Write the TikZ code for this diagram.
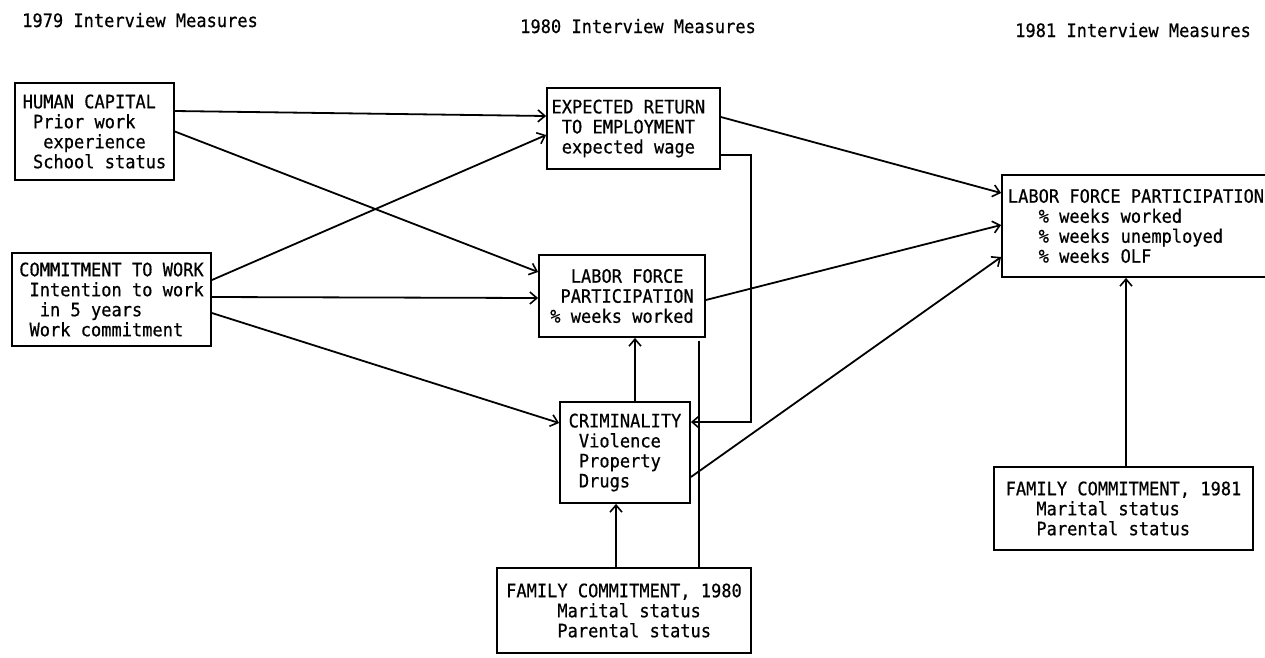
\documentclass[tikz,border=0pt]{standalone}
\usepackage{fontspec}
\setmonofont{DejaVu Sans Mono}[FakeStretch=0.92, FakeBold=0.6]
\usetikzlibrary{arrows.meta,calc}
\newcommand\ind[1]{\hspace*{#1\fontcharwd\font`M}}
\tikzset{
  box/.style={draw, line width=1.8pt, align=left, inner sep=0pt,
    font=\ttfamily\fontsize{18.5}{20}\selectfont},
  hdr/.style={anchor=base west, inner sep=0pt, font=\ttfamily\fontsize{18.5}{20}\selectfont},
  arr/.style={line width=1.8pt, -{Straight Barb[length=7pt,width=12pt,line width=1.6pt]}},
  ln/.style={line width=1.8pt}
}
\begin{document}
\begin{tikzpicture}[x=1pt,y=-1pt]
\useasboundingbox (0,0) rectangle (1265,657);
% headers
\node[hdr] (h79) at (22,27) {1979 Interview Measures};
\node[hdr] (h80) at (520,33) {1980 Interview Measures};
\node[hdr] (h81) at (1015,37) {1981 Interview Measures};
% boxes
\node[box, minimum width=159pt, minimum height=97pt] (hc) at (94.5,131.5)
  {HUMAN CAPITAL\\\ind1Prior work\\\ind2experience\\\ind1School status};
\node[box, minimum width=199pt, minimum height=93pt] (ctw) at (111.5,299.5)
  {COMMITMENT TO WORK\\\ind1Intention to work\\\ind2in 5 years\\\ind1Work commitment};
\node[box, minimum width=173pt, minimum height=81pt] (er) at (633.5,128.5)
  {EXPECTED RETURN\ind1\\\ind1TO EMPLOYMENT\\\ind1expected wage};
\node[box, minimum width=166pt, minimum height=82pt] (lfp80) at (622,296)
  {\ind2LABOR FORCE\\\ind1PARTICIPATION\\\% weeks worked};
\node[box, minimum width=130pt, minimum height=101pt] (crim) at (625,452.5)
  {CRIMINALITY\\\ind1Violence\\\ind1Property\\\ind1Drugs};
\node[box, minimum width=254pt, minimum height=85pt] (fam80) at (624,610.5)
  {FAMILY COMMITMENT, 1980\\\ind5Marital status\\\ind5Parental status};
\node[box, minimum width=268pt, minimum height=102pt] (lfp81) at (1136,226)
  {LABOR FORCE PARTICIPATION\\\ind3\% weeks worked\\\ind3\% weeks unemployed\\\ind3\% weeks OLF};
\node[box, minimum width=259pt, minimum height=83pt] (fam81) at (1123.5,508.5)
  {FAMILY COMMITMENT, 1981\\\ind3Marital status\\\ind3Parental status};
% connectors
\draw[arr] ([yshift=20.5pt]hc.east) -- ([yshift=12.5pt]er.west);
\draw[arr] (hc.east) -- ([yshift=24pt]lfp80.west);
\draw[arr] ([yshift=19.5pt]ctw.east) -- ([yshift=-6.5pt]er.west);
\draw[arr] ([yshift=2.5pt]ctw.east) -- ([yshift=-2pt]lfp80.west);
\draw[arr] ([yshift=-13.5pt]ctw.east) -- ([yshift=29.5pt]crim.west);
\draw[arr] ([yshift=11.5pt]er.east) -- ([yshift=33pt]lfp81.west);
\draw[arr] ([yshift=-26.5pt]er.east) -- ++(30,0) |- ([yshift=30.5pt]crim.east);
\draw[arr] ([yshift=-4pt]lfp80.east) -- ([yshift=1pt]lfp81.west);
\draw[arr] ([yshift=-24.5pt]crim.east) -- ([yshift=-31pt]lfp81.west);
\draw[arr] ([xshift=10pt]crim.north) -- ([xshift=13pt]lfp80.south);
\draw[arr] ([xshift=-8pt]fam80.north) -- ([xshift=-9pt]crim.south);
\draw[ln] ([xshift=77pt,yshift=-3pt]lfp80.south) -- ([xshift=75pt]fam80.north);
\draw[arr] ([xshift=2.5pt]fam81.north) -- ([xshift=-10pt]lfp81.south);
\end{tikzpicture}
\end{document}
